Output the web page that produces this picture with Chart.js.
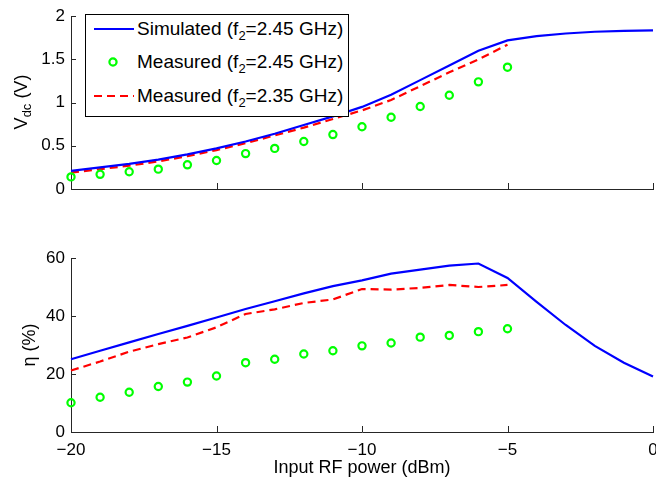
<!DOCTYPE html>
<html><head><meta charset="utf-8">
<script src="https://cdn.jsdelivr.net/npm/chart.js@4.4.1/dist/chart.umd.min.js"></script>
<style>
html,body{margin:0;padding:0;background:#fff;overflow:hidden;width:656px;height:479px;}
#wrap{position:relative;width:656px;height:479px;overflow:hidden;font-family:"Liberation Sans",Arial,sans-serif;}
canvas{position:absolute;left:0;}
#c1{top:0;} #c2{top:215px;}
.rot{position:absolute;transform:translate(-50%,-50%) rotate(-90deg);white-space:nowrap;font-size:18px;color:#000;line-height:20px;}
.rot sub{font-size:13px;vertical-align:-4px;line-height:0;}
#legend{position:absolute;left:85px;top:14px;width:262px;height:101px;border:1px solid #000;background:#fff;}
.lrow{position:absolute;left:0;height:22px;line-height:22px;width:262px;font-size:19px;color:#000;}
.lrow svg{position:absolute;left:7px;top:1px;}
.lrow span{position:absolute;left:51px;top:0;white-space:nowrap;}
.lrow sub{font-size:13px;vertical-align:-5px;line-height:0;}
</style></head>
<body><div id="wrap">
<canvas id="c1" width="680" height="215" style="width:680px;height:215px"></canvas>
<canvas id="c2" width="680" height="264" style="width:680px;height:264px"></canvas>
<div class="rot" id="vdcLabel" style="left:21px;top:102px">V<sub>dc</sub> (V)</div>
<div class="rot" id="etaLabel" style="left:29px;top:345px"></div>
<div id="legend"></div>
</div>
<script>
// ---- data ----
const inputPower = [-20,-19,-18,-17,-16,-15,-14,-13,-12,-11,-10,-9,-8,-7,-6,-5,-4,-3,-2,-1,0];
const simVdc     = [0.21,0.25,0.29,0.34,0.40,0.47,0.55,0.64,0.74,0.84,0.95,1.09,1.26,1.43,1.60,1.72,1.77,1.80,1.82,1.83,1.835];
const measVdc245 = [0.14,0.17,0.20,0.23,0.28,0.33,0.41,0.47,0.55,0.63,0.72,0.83,0.955,1.085,1.24,1.41];
const measVdc235 = [0.19,0.23,0.27,0.32,0.38,0.45,0.53,0.62,0.71,0.81,0.91,1.03,1.19,1.35,1.50,1.67];
const simEta     = [25.1,28.0,30.9,33.8,36.6,39.5,42.4,45.1,47.8,50.3,52.3,54.6,56.0,57.4,58.1,53.1,44.9,36.9,29.7,23.9,19.1];
const measEta245 = [10.1,12.0,13.7,15.7,17.2,19.3,23.9,25.1,26.9,28.0,29.7,30.7,32.7,33.3,34.6,35.6];
const measEta235 = [21.2,24.3,27.7,30.3,32.6,36.1,40.7,42.3,44.5,45.7,49.3,49.1,49.7,50.7,50.0,50.7];
const xTicks   = [-20,-15,-10,-5,0];
const vdcTicks = [0,0.5,1,1.5,2];
const etaTicks = [0,20,40,60];
const seriesNames = [
  ['Simulated (f','2','=2.45 GHz)'],
  ['Measured (f','2','=2.45 GHz)'],
  ['Measured (f','2','=2.35 GHz)']
];
const xTitle = 'Input RF power (dBm)';
const etaTitle = '\u03b7 (%)';

// ---- styling ----
const AXIS = '#262626';
const BLUE = '#0000ff', GREEN = '#00ff00', RED = '#ff0000';
Chart.defaults.font.family = '"Liberation Sans", Arial, sans-serif';
Chart.defaults.color = '#000';

document.getElementById('etaLabel').textContent = etaTitle;

const pts = arr => arr.map((v,i)=>({x:inputPower[i], y:v}));
const fmt = v => (v<0 ? '\u2212'+Math.abs(v) : String(v));

const inwardTicks = {
  id:'inwardTicks',
  afterDraw(chart){
    const ctx = chart.ctx, a = chart.chartArea;
    const xs = chart.scales.x, ys = chart.scales.y;
    ctx.save(); ctx.strokeStyle = AXIS; ctx.lineWidth = 1;
    xs.ticks.forEach(t=>{
      const p = Math.round(xs.getPixelForValue(t.value))+0.5;
      ctx.beginPath(); ctx.moveTo(p, a.bottom); ctx.lineTo(p, a.bottom-6); ctx.stroke();
    });
    ys.ticks.forEach(t=>{
      const p = Math.round(ys.getPixelForValue(t.value))+0.5;
      ctx.beginPath(); ctx.moveTo(a.left, p); ctx.lineTo(a.left+5, p); ctx.stroke();
    });
    ctx.restore();
  }
};

function datasets(sim, m245, m235){
  return [
    {label: seriesNames[0].join(''), data: pts(sim), borderColor: BLUE, borderWidth: 2.2, pointRadius: 0, tension: 0, clip: false},
    {label: seriesNames[1].join(''), data: pts(m245), showLine: false, borderColor: GREEN, backgroundColor: 'rgba(0,0,0,0)', pointRadius: 3.6, pointBorderWidth: 2.2, pointStyle: 'circle', clip: false},
    {label: seriesNames[2].join(''), data: pts(m235), borderColor: RED, borderWidth: 2.2, borderDash: [8,5], pointRadius: 0, tension: 0, clip: false}
  ];
}

function makeChart(id, opts){
  return new Chart(document.getElementById(id), {
    type: 'line',
    data: {datasets: datasets(opts.sim, opts.m245, opts.m235)},
    options: {
      responsive: false, animation: false, devicePixelRatio: 1,
      layout: {padding: {left: 0, top: opts.padTop, right: 27, bottom: 0}},
      plugins: {legend: {display: false}, tooltip: {enabled: false}},
      scales: {
        x: {
          type: 'linear', min: -20, max: 0,
          afterBuildTicks: s => { s.ticks = xTicks.map(v=>({value:v})); },
          afterFit: s => { s.height = opts.xHeight; },
          grid: {display: false, drawTicks: false},
          border: {display: true, color: AXIS, width: 1},
          ticks: {display: opts.showX, font: {size: 17}, padding: 8, maxRotation: 0, callback: v => fmt(v)},
          title: {display: opts.showX, text: xTitle, font: {size: 18}, padding: {top: 0, bottom: 0}}
        },
        y: {
          type: 'linear', min: opts.yTicks[0], max: opts.yTicks[opts.yTicks.length-1],
          afterBuildTicks: s => { s.ticks = opts.yTicks.map(v=>({value:v})); },
          afterFit: s => { s.width = 71; },
          grid: {display: false, drawTicks: false},
          border: {display: true, color: AXIS, width: 1},
          ticks: {font: {size: 17}, padding: 6, callback: v => fmt(v)}
        }
      }
    },
    plugins: [inwardTicks]
  });
}

makeChart('c1', {sim: simVdc, m245: measVdc245, m235: measVdc235, padTop: 15, xHeight: 26, showX: false, yTicks: vdcTicks});
makeChart('c2', {sim: simEta, m245: measEta245, m235: measEta235, padTop: 43, xHeight: 47, showX: true, yTicks: etaTicks});

// ---- legend ----
const legend = document.getElementById('legend');
const rowCenters = [14, 47, 81];
const samples = [
  '<svg width="42" height="20"><line x1="1" y1="10" x2="41" y2="10" stroke="'+BLUE+'" stroke-width="2.2"/></svg>',
  '<svg width="42" height="20"><circle cx="20" cy="10" r="3.6" fill="none" stroke="'+GREEN+'" stroke-width="2.2"/></svg>',
  '<svg width="42" height="20"><line x1="1" y1="10" x2="41" y2="10" stroke="'+RED+'" stroke-width="2.2" stroke-dasharray="8 5"/></svg>'
];
seriesNames.forEach((p,i)=>{
  const r = document.createElement('div');
  r.className = 'lrow';
  r.style.top = (rowCenters[i]-11)+'px';
  r.innerHTML = samples[i] + '<span>'+p[0]+'<sub>'+p[1]+'</sub>'+p[2]+'</span>';
  legend.appendChild(r);
});
</script>
</body></html>
